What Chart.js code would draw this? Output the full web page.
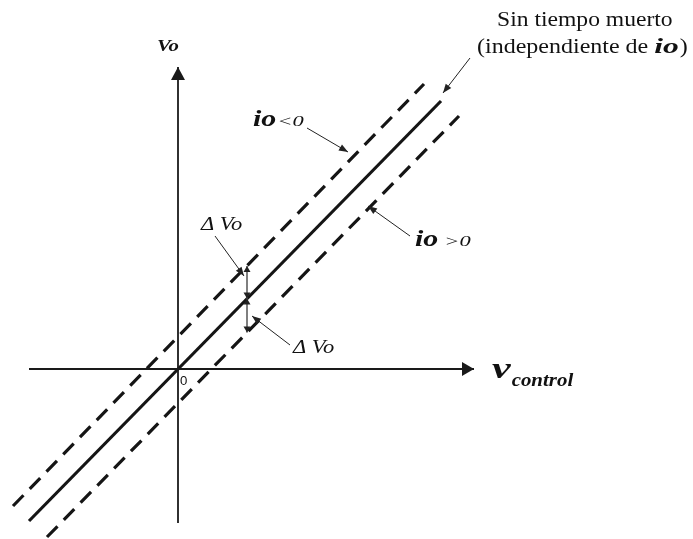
<!DOCTYPE html>
<html>
<head>
<meta charset="utf-8">
<script src="https://cdn.jsdelivr.net/npm/chart.js@4/dist/chart.umd.min.js"></script>
<style>
  body { margin: 0; background: #fff; }
  canvas { display: block; }
</style>
</head>
<body>
<canvas id="chart" width="693" height="539"></canvas>
<script>
// Transfer characteristic (units: arbitrary, origin at 0,0)
const solidX = [-14.9, 26.3];
const solidY = [-15.2, 26.8];
const negX = [-16.5, 24.6];      // io < 0
const negY = [-13.7, 28.5];
const posX = [-13.1, 28.1];      // io > 0
const posY = [-16.8, 25.3];
const xAxisX = [-14.9, 29.6];
const xAxisY = [0, 0];
const yAxisX = [0, 0];
const yAxisY = [-15.4, 30.2];
const dVoX = 6.9;
const dVoY = [10.3, 7.04, 3.64];   // upper dashed, solid, lower dashed at dVoX

const pts = (xs, ys) => xs.map((x, i) => ({ x: x, y: ys[i] }));

// annotation arrows: [fromX, fromY, toX, toY]
const pointers = [
    [12.9, 24.1, 17.0, 21.7],
    [23.2, 13.3, 19.0, 16.3],
    [3.7, 13.3, 6.6, 9.3],
    [11.2, 2.4, 7.4, 5.3],
    [29.2, 31.1, 26.5, 27.6]
];

const serif = '"Liberation Serif", "DejaVu Serif", serif';

function arrowHead(ctx, x1, y1, x2, y2, len, half) {
    const a = Math.atan2(y2 - y1, x2 - x1);
    ctx.beginPath();
    ctx.moveTo(x2, y2);
    ctx.lineTo(x2 - len * Math.cos(a) + half * Math.sin(a), y2 - len * Math.sin(a) - half * Math.cos(a));
    ctx.lineTo(x2 - len * Math.cos(a) - half * Math.sin(a), y2 - len * Math.sin(a) + half * Math.cos(a));
    ctx.closePath();
    ctx.fill();
}

// draws text stretched horizontally, returns the drawn width
function text(ctx, str, x, y, font, stretch) {
    ctx.save();
    ctx.font = font;
    ctx.translate(x, y);
    ctx.scale(stretch, 1);
    ctx.fillText(str, 0, 0);
    const w = ctx.measureText(str).width * stretch;
    ctx.restore();
    return w;
}

const decorations = {
    id: "decorations",
    afterDatasetsDraw(chart) {
        const ctx = chart.ctx;
        const sx = chart.scales.x, sy = chart.scales.y;
        const px = v => sx.getPixelForValue(v);
        const py = v => sy.getPixelForValue(v);
        ctx.save();
        ctx.fillStyle = "#1a1a1a";
        ctx.strokeStyle = "#1a1a1a";

        // axis arrowheads
        arrowHead(ctx, px(xAxisX[0]), py(0), px(xAxisX[1]), py(0), 12, 7);
        arrowHead(ctx, px(0), py(yAxisY[0]), px(0), py(yAxisY[1]), 13, 7);

        // delta Vo double arrows
        ctx.strokeStyle = "#555";
        ctx.fillStyle = "#222";
        ctx.lineWidth = 1.5;
        for (let i = 0; i < 2; i++) {
            const x = px(dVoX), ya = py(dVoY[i]), yb = py(dVoY[i + 1]);
            ctx.beginPath();
            ctx.moveTo(x, ya);
            ctx.lineTo(x, yb);
            ctx.stroke();
            arrowHead(ctx, x, yb, x, ya, 6, 3.5);
            arrowHead(ctx, x, ya, x, yb, 6, 3.5);
        }

        // pointer arrows
        ctx.strokeStyle = "#222";
        ctx.lineWidth = 1;
        pointers.forEach(p => {
            ctx.beginPath();
            ctx.moveTo(px(p[0]), py(p[1]));
            ctx.lineTo(px(p[2]), py(p[3]));
            ctx.stroke();
            arrowHead(ctx, px(p[0]), py(p[1]), px(p[2]), py(p[3]), 9, 3.5);
        });

        // labels
        ctx.fillStyle = "#111";
        ctx.textBaseline = "alphabetic";
        ctx.textAlign = "left";
        let x, w;

        text(ctx, "Vo", px(-2.1), py(31.8), "italic bold 16px " + serif, 1.3);

        x = px(7.5);
        w = text(ctx, "io", x, py(24.3), "italic bold 23px " + serif, 1.3);
        text(ctx, "<0", x + w + 1, py(24.3), "italic 15px " + serif, 1.5);

        x = px(23.7);
        w = text(ctx, "io", x, py(12.3), "italic bold 23px " + serif, 1.3);
        text(ctx, ">0", x + w + 6, py(12.3), "italic 15px " + serif, 1.5);

        text(ctx, "\u0394 Vo", px(2.3), py(13.9), "italic 18px " + serif, 1.25);
        text(ctx, "\u0394 Vo", px(11.5), py(1.6), "italic 18px " + serif, 1.25);

        text(ctx, "Sin tiempo muerto", px(31.9), py(34.3), "20px " + serif, 1.18);
        x = px(29.9);
        w = text(ctx, "(independiente de ", x, py(31.6), "20px " + serif, 1.2);
        const w2 = text(ctx, "io", x + w, py(31.6), "italic bold 21px " + serif, 1.5);
        text(ctx, ")", x + w + w2 + 1, py(31.6), "20px " + serif, 1.2);

        x = px(31.4);
        w = text(ctx, "v", x, py(-0.9), "italic bold 30px " + serif, 1.4);
        text(ctx, "control", x + w + 1, py(-1.7), "italic bold 19px " + serif, 1.1);

        text(ctx, "0", px(0.2), py(-1.6), "12px \"Liberation Sans\", Arial, sans-serif", 1.1);
        ctx.restore();
    }
};

const line = (data, width, dash, color) => ({
    data: data,
    showLine: true,
    borderColor: color,
    borderWidth: width,
    borderDash: dash,
    pointRadius: 0,
    fill: false
});

new Chart(document.getElementById("chart"), {
    type: "scatter",
    data: {
        datasets: [
            line(pts(xAxisX, xAxisY), 1.8, [], "#1a1a1a"),
            line(pts(yAxisX, yAxisY), 1.8, [], "#1a1a1a"),
            line(pts(solidX, solidY), 3.2, [], "#151515"),
            line(pts(negX, negY), 3.2, [15, 9], "#151515"),
            line(pts(posX, posY), 3.2, [15, 9], "#151515")
        ]
    },
    options: {
        responsive: false,
        animation: false,
        layout: { padding: 0 },
        plugins: { legend: { display: false }, tooltip: { enabled: false } },
        scales: {
            x: { type: "linear", display: false, min: -17.8, max: 51.5 },
            y: { type: "linear", display: false, min: -17.0, max: 36.9 }
        }
    },
    plugins: [decorations]
});
</script>
</body>
</html>
